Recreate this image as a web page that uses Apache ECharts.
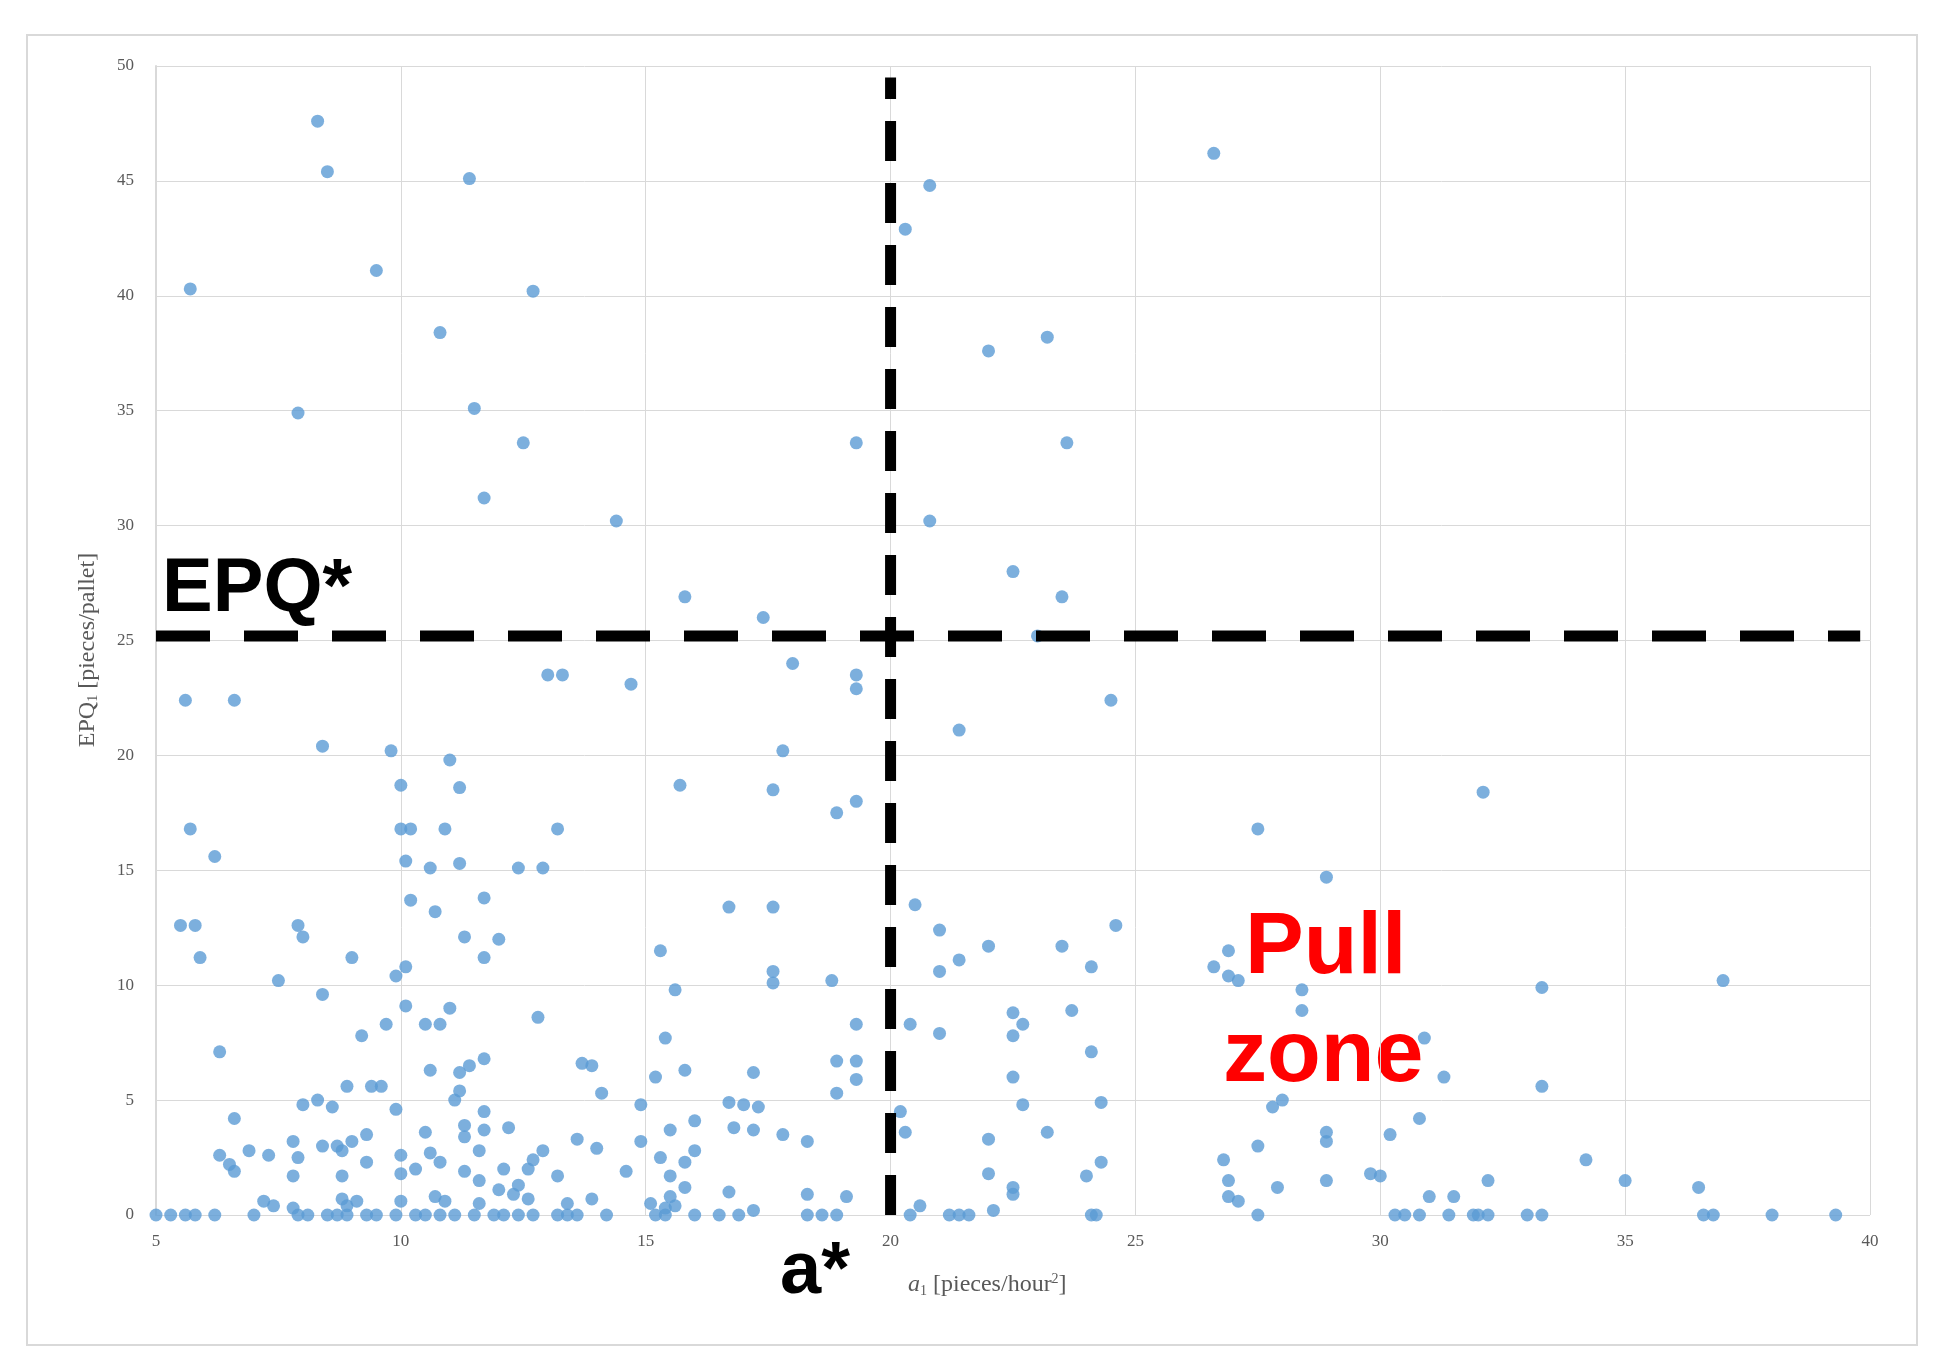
<!DOCTYPE html>
<html><head><meta charset="utf-8">
<script src="https://cdn.jsdelivr.net/npm/echarts@6/dist/echarts.min.js"></script>
<style>html,body{margin:0;background:#fff}#c{width:1946px;height:1367px}</style>
</head><body><div id="c"></div>
<script>
const xTicks = [5,10,15,20,25,30,35,40];
const yTicks = [0,5,10,15,20,25,30,35,40,45,50];
const aStar = 20;
const epqStar = 25.2;
const points = [
[8.3,47.6],[8.5,45.4],[11.4,45.1],[5.7,40.3],[9.5,41.1],[12.7,40.2],[10.8,38.4],[7.9,34.9],[11.5,35.1],[12.5,33.6],[11.7,31.2],[14.4,30.2],[15.8,26.9],[17.4,26.0],[18.0,24.0],[19.3,33.6],[20.3,42.9],[20.8,44.8],[20.8,30.2],[22.0,37.6],[23.2,38.2],[23.6,33.6],[22.5,28.0],[23.5,26.9],[23.0,25.2],[26.6,46.2],[24.5,22.4],[21.4,21.1],[19.3,23.5],[19.3,22.9],[14.7,23.1],[13.0,23.5],[13.3,23.5],[5.6,22.4],[6.6,22.4],[8.4,20.4],[9.8,20.2],[11.0,19.8],[17.8,20.2],[15.7,18.7],[17.6,18.5],[19.3,18.0],[18.9,17.5],[10.0,18.7],[11.2,18.6],[32.1,18.4],[27.5,16.8],[5.7,16.8],[10.0,16.8],[10.2,16.8],[10.9,16.8],[13.2,16.8],[6.2,15.6],[10.1,15.4],[10.6,15.1],[11.2,15.3],[12.4,15.1],[12.9,15.1],[28.9,14.7],[10.2,13.7],[10.7,13.2],[11.7,13.8],[5.5,12.6],[5.8,12.6],[7.9,12.6],[8.0,12.1],[11.3,12.1],[12.0,12.0],[16.7,13.4],[17.6,13.4],[20.5,13.5],[21.0,12.4],[24.6,12.6],[22.0,11.7],[23.5,11.7],[21.4,11.1],[21.0,10.6],[24.1,10.8],[15.3,11.5],[17.6,10.6],[17.6,10.1],[18.8,10.2],[15.6,9.8],[5.9,11.2],[9.0,11.2],[11.7,11.2],[9.9,10.4],[10.1,10.8],[7.5,10.2],[8.4,9.6],[26.6,10.8],[26.9,11.5],[26.9,10.4],[27.1,10.2],[28.4,9.8],[33.3,9.9],[37.0,10.2],[10.1,9.1],[11.0,9.0],[9.7,8.3],[10.5,8.3],[10.8,8.3],[12.8,8.6],[19.3,8.3],[20.4,8.3],[21.0,7.9],[22.5,8.8],[22.7,8.3],[22.5,7.8],[23.7,8.9],[28.4,8.9],[30.9,7.7],[6.3,7.1],[9.2,7.8],[15.4,7.7],[24.1,7.1],[11.7,6.8],[11.4,6.5],[11.2,6.2],[10.6,6.3],[13.7,6.6],[13.9,6.5],[15.2,6.0],[15.8,6.3],[17.2,6.2],[18.9,6.7],[19.3,6.7],[19.3,5.9],[22.5,6.0],[31.3,6.0],[33.3,5.6],[8.9,5.6],[9.4,5.6],[9.6,5.6],[11.2,5.4],[11.1,5.0],[14.1,5.3],[18.9,5.3],[6.6,4.2],[8.0,4.8],[8.3,5.0],[8.6,4.7],[9.9,4.6],[11.7,4.5],[14.9,4.8],[16.7,4.9],[17.0,4.8],[17.3,4.7],[20.2,4.5],[22.7,4.8],[24.3,4.9],[27.8,4.7],[28.0,5.0],[16.0,4.1],[16.8,3.8],[17.2,3.7],[17.8,3.5],[18.3,3.2],[20.3,3.6],[23.2,3.6],[28.9,3.6],[28.9,3.2],[30.2,3.5],[30.8,4.2],[27.5,3.0],[22.0,3.3],[10.5,3.6],[11.7,3.7],[12.2,3.8],[11.3,3.9],[11.3,3.4],[9.3,3.5],[9.0,3.2],[8.7,3.0],[8.4,3.0],[7.8,3.2],[7.9,2.5],[7.3,2.6],[6.9,2.8],[6.3,2.6],[6.5,2.2],[6.6,1.9],[9.3,2.3],[8.8,2.8],[10.0,2.6],[10.6,2.7],[11.6,2.8],[12.7,2.4],[12.9,2.8],[13.6,3.3],[14.0,2.9],[14.9,3.2],[15.3,2.5],[15.5,3.7],[15.8,2.3],[16.0,2.8],[10.8,2.3],[10.3,2.0],[10.0,1.8],[11.3,1.9],[11.6,1.5],[12.1,2.0],[12.4,1.3],[12.6,2.0],[13.2,1.7],[14.6,1.9],[15.5,1.7],[15.8,1.2],[16.7,1.0],[18.3,0.9],[19.1,0.8],[22.0,1.8],[22.5,1.2],[22.5,0.9],[24.0,1.7],[24.3,2.3],[26.8,2.4],[26.9,1.5],[26.9,0.8],[27.1,0.6],[27.9,1.2],[28.9,1.5],[29.8,1.8],[30.0,1.7],[31.0,0.8],[31.5,0.8],[32.2,1.5],[34.2,2.4],[35.0,1.5],[36.5,1.2],[7.8,1.7],[8.8,1.7],[7.2,0.6],[7.4,0.4],[7.8,0.3],[8.8,0.7],[8.9,0.4],[9.1,0.6],[10.0,0.6],[10.7,0.8],[10.9,0.6],[11.6,0.5],[12.0,1.1],[12.3,0.9],[12.6,0.7],[13.4,0.5],[13.9,0.7],[15.1,0.5],[15.5,0.8],[15.4,0.3],[15.6,0.4],[17.2,0.2],[20.6,0.4],[22.1,0.2]
];
const zeroX = [5.0,5.3,5.6,5.8,6.2,7.0,7.9,8.1,8.5,8.7,8.9,9.3,9.5,9.9,10.3,10.5,10.8,11.1,11.5,11.9,12.1,12.4,12.7,13.2,13.4,13.6,14.2,15.2,15.4,16.0,16.5,16.9,18.3,18.6,18.9,20.4,21.2,21.4,21.6,24.1,24.2,27.5,30.3,30.5,30.8,31.4,31.9,32.0,32.2,33.0,33.3,36.6,36.8,38.0,39.3];
const allPts = points.concat(zeroX.map(x => [x, 0]));

const chart = echarts.init(document.getElementById('c'));
const lbl = {color:'#595959', fontFamily:'Liberation Serif', fontSize:17};
chart.setOption({
  animation:false,
  graphic:[
    {type:'rect', shape:{x:27,y:35,width:1890,height:1310}, style:{fill:'none', stroke:'#d9d9d9', lineWidth:2}},
    {type:'text', left:162, top:552, style:{text:'EPQ*', font:'bold 76px Liberation Sans', fill:'#000'}},
    {type:'text', left:780, top:1236, style:{text:'a*', font:'bold 74px Liberation Sans', fill:'#000'}},
    {type:'text', left:1245, top:905, style:{text:'Pull', font:'bold 88px Liberation Sans', fill:'#ff0000'}},
    {type:'text', left:1223, top:1013, style:{text:'zone', font:'bold 88px Liberation Sans', fill:'#ff0000'}},
    {type:'text', left:908, top:1272, style:{rich:{
      a:{fontFamily:'Liberation Serif', fontStyle:'italic', fontSize:24, fill:'#595959'},
      s:{fontFamily:'Liberation Serif', fontSize:14, fill:'#595959', verticalAlign:'bottom', padding:[10,0,0,0]},
      b:{fontFamily:'Liberation Serif', fontSize:24, fill:'#595959'},
      p:{fontFamily:'Liberation Serif', fontSize:14, fill:'#595959', padding:[0,0,12,0]}
    }, text:'{a|a}{s|1}{b| [pieces/hour}{p|2}{b|]}'}},
    {type:'text', x:88, y:650, rotation:Math.PI/2, style:{rich:{
      b:{fontFamily:'Liberation Serif', fontSize:24, fill:'#595959'},
      s:{fontFamily:'Liberation Serif', fontSize:14, fill:'#595959', padding:[10,0,0,0]}
    }, text:'{b|EPQ}{s|1}{b| [pieces/pallet]}', align:'center', verticalAlign:'middle'}}
  ],
  grid:{left:156, right:76, top:66, bottom:152},
  xAxis:{type:'value', min:xTicks[0], max:xTicks[xTicks.length-1], interval:5,
    axisLine:{show:false}, axisTick:{show:false},
    splitLine:{lineStyle:{color:'#d9d9d9'}}, axisLabel:{...lbl, margin:18}},
  yAxis:{type:'value', min:yTicks[0], max:yTicks[yTicks.length-1], interval:5,
    axisLine:{show:true, lineStyle:{color:'#d9d9d9', width:2}}, axisTick:{show:false},
    splitLine:{lineStyle:{color:'#d9d9d9'}}, axisLabel:{...lbl, margin:22}},
  series:[
    {type:'scatter', data:allPts, symbolSize:13, itemStyle:{color:'#5b9bd5'}, z:2},
    {type:'line', data:[[aStar,0],[aStar,49.5]], symbol:'none', z:3,
      lineStyle:{color:'#000', width:11, type:[40,22]}},
    {type:'line', data:[[5,epqStar],[39.8,epqStar]], symbol:'none', z:3,
      lineStyle:{color:'#000', width:11, type:[54,34]}}
  ]
});
</script></body></html>
